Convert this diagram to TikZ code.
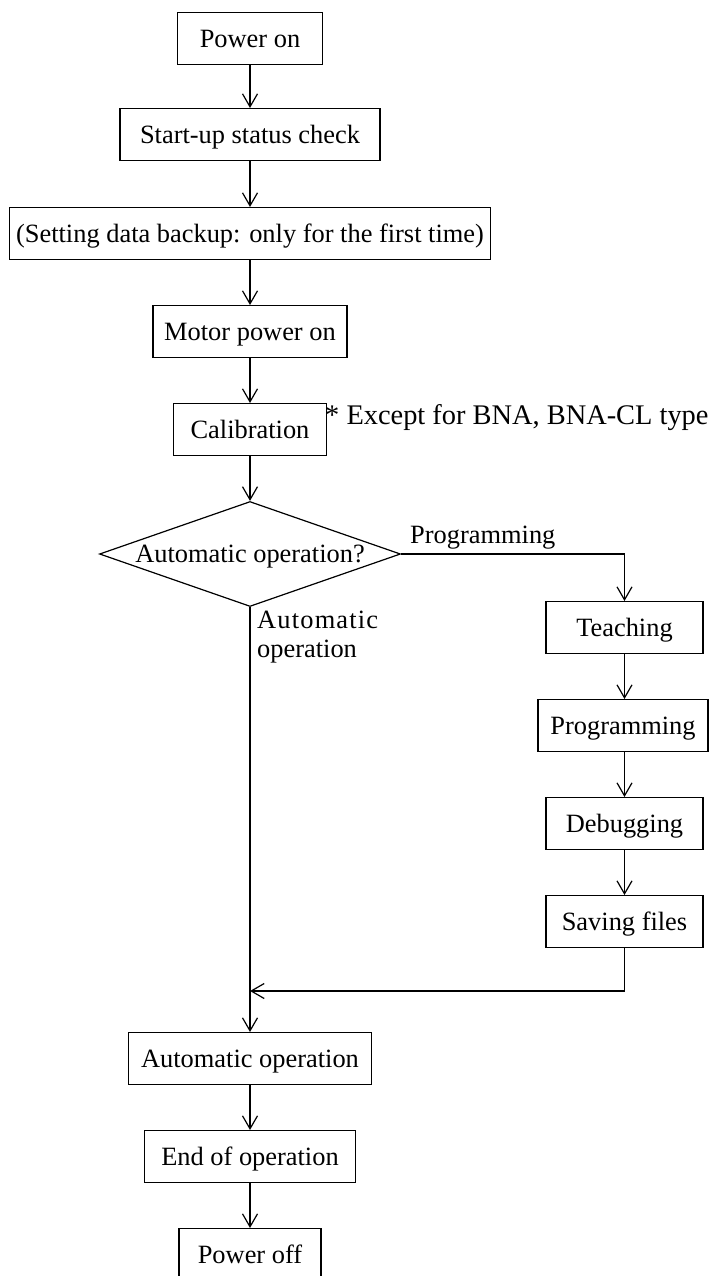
\documentclass[tikz,border=0pt]{standalone}
\usepackage{fontspec}
\setmainfont{Liberation Serif}
\usetikzlibrary{arrows.meta,shapes.geometric}

\begin{document}
\begin{tikzpicture}[x=1pt,y=-1pt,
  every node/.style={font=\fontsize{26.4}{30}\selectfont},
  box/.style={draw, line width=1.2pt, minimum height=52pt, inner sep=0pt,
    text height=17.5pt, text depth=0pt, anchor=north},
  decision/.style={diamond, draw, line width=1.2pt, shape aspect=2.87,
    minimum width=301pt, minimum height=105pt, inner sep=0pt,
    text height=17.5pt, text depth=0pt},
  label/.style={anchor=base west, inner sep=0pt},
  flow/.style={line width=1.2pt, -{Straight Barb[length=13pt,width=15pt]}},
]
\useasboundingbox (0,0) rectangle (709,1276);

% main column
\node[box, minimum width=145pt] (pon) at (250,12)  {Power on};
\node[box, minimum width=260pt] (chk) at (250,108) {Start-up status check};
\node[box, minimum width=481pt] (bak) at (250,207) {(Setting data backup: only for the first time)};
\node[box, minimum width=194pt] (mot) at (250,305) {Motor power on};
\node[box, minimum width=153pt] (cal) at (250,403) {Calibration};
\node[label, font=\fontsize{28.4}{32}\selectfont] (note) at (325,424) {* Except for BNA, BNA-CL type};
\node[decision] (dec) at (250,554) {Automatic operation?};

% programming branch
\node[box, minimum width=157pt] (tea) at (624.5,601) {Teaching};
\node[box, minimum width=170pt] (prg) at (623,699)   {Programming};
\node[box, minimum width=157pt] (dbg) at (624.5,797) {Debugging};
\node[box, minimum width=157pt] (sav) at (624.5,895) {Saving files};

% run and shutdown
\node[box, minimum width=243pt] (auto) at (250,1032) {Automatic operation};
\node[box, minimum width=211pt] (endop) at (250,1130) {End of operation};
\node[box, minimum width=142pt] (off) at (250,1228) {Power off};

% branch labels
\node[label] (lprog) at (410,543) {Programming};
\node[label] (lauto) at (257,628) {\addfontfeature{LetterSpace=4.5}Automatic};
\node[label] (lauto2) at (257,657) {operation};

\coordinate (join) at (250,991);

% connectors
\draw[flow] (pon.south) -- (chk.north);
\draw[flow] (chk.south) -- (bak.north);
\draw[flow] (bak.south) -- (mot.north);
\draw[flow] (mot.south) -- (cal.north);
\draw[flow] (cal.south) -- (dec.north);
\draw[flow] (dec.east) -| (tea.north);
\draw[flow] (tea.south) -- (tea.south |- prg.north);
\draw[flow] (dbg.north |- prg.south) -- (dbg.north);
\draw[flow] (dbg.south) -- (sav.north);
\draw[flow] (sav.south) |- (join);
\draw[flow] (dec.south) -- (auto.north);
\draw[flow] (auto.south) -- (endop.north);
\draw[flow] (endop.south) -- (off.north);
\end{tikzpicture}
\end{document}
